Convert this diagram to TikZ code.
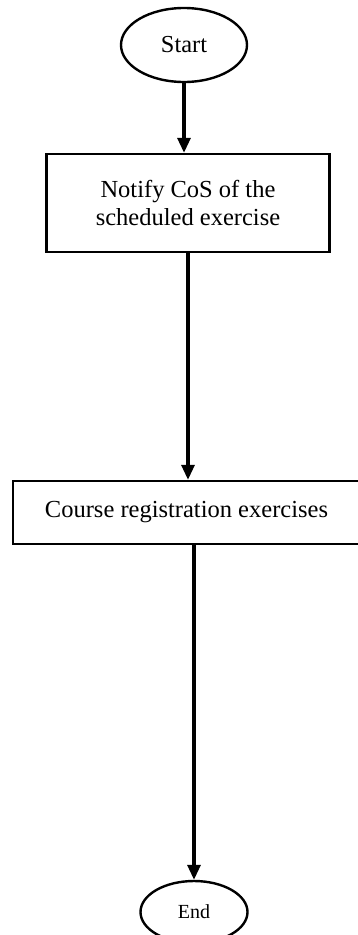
\documentclass[tikz,border=0pt]{standalone}
\usepackage{fontspec}
\setmainfont{Liberation Serif}
\usetikzlibrary{arrows.meta,shapes.geometric}
\begin{document}
\begin{tikzpicture}[x=1pt,y=-1pt,
  term/.style={draw, line width=2.4pt, ellipse, inner sep=0pt},
  procbox/.style={draw, line width=2.4pt, rectangle, inner sep=0pt, align=center,
    font=\fontsize{24.5}{28}\selectfont},
  arr/.style={line width=3.2pt, -{Triangle[length=15pt,width=13pt]}}]
\useasboundingbox (0,0) rectangle (357,935);
\node[term, minimum width=126pt, minimum height=74pt,
  font=\fontsize{24.4}{29}\selectfont] (start) at (184,45) {Start};
\node[procbox, minimum width=283pt, minimum height=98pt] (notify) at (188,203)
  {Notify CoS of the\\scheduled exercise};
\node[procbox, minimum width=347pt, minimum height=63pt] (course) at (186.5,512.5)
  {Course registration exercises};
\node[term, minimum width=107pt, minimum height=62pt,
  font=\fontsize{20}{24}\selectfont] (end) at (194,912) {End};
\draw[arr] (start.south) -- (start.south |- notify.north);
\draw[arr] (notify.south) -- (notify.south |- course.north);
\draw[arr] (end.north |- course.south) -- (end.north);
\end{tikzpicture}
\end{document}
